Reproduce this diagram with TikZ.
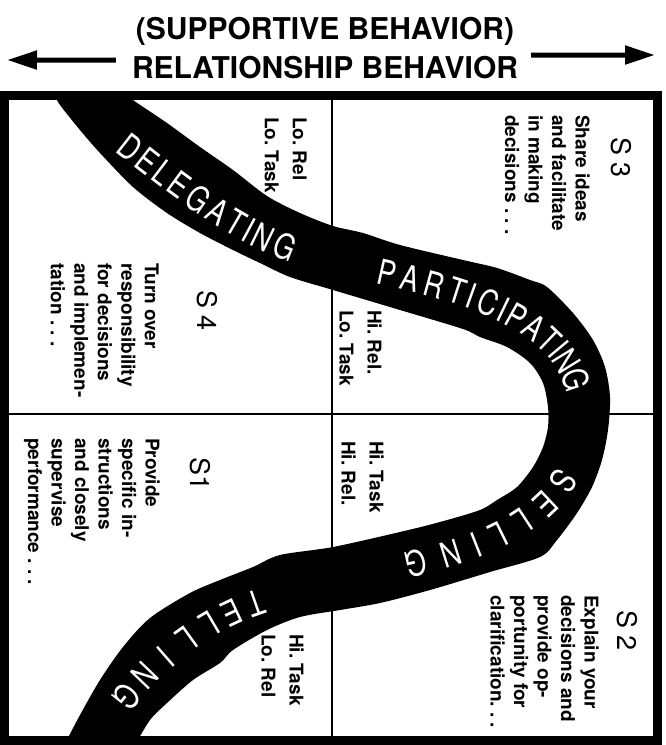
\documentclass[tikz,border=0pt]{standalone}
\usepackage{fontspec}
\setmainfont{TeX Gyre Heros}
\newfontfamily\bandfamily[FakeStretch=0.78]{TeX Gyre Heros}
\usetikzlibrary{arrows.meta}
\newcommand{\bandfont}{\bandfamily\fontsize{35}{35}\selectfont}
\frenchspacing

\begin{document}
\begin{tikzpicture}[x=1pt,y=-1pt,
    quad/.style={rotate=-90,anchor=north west,align=left,inner sep=0pt,font=\fontsize{19}{23.5}\selectfont\bfseries},
    lvl/.style={rotate=-90,anchor=north west,align=left,inner sep=0pt,font=\fontsize{19}{28}\selectfont\bfseries},
    stag/.style={rotate=-90,anchor=west,inner sep=0pt,font=\fontsize{27}{27}\selectfont},
    hdr/.style={anchor=base,inner sep=0pt,font=\fontsize{30}{30}\selectfont\bfseries},
    hdrarrow/.style={line width=5pt,-{Triangle[length=30pt,width=18pt]}},
    bandch/.style={sloped,allow upside down,inner sep=0pt,text=white,font=\bandfont}]
  \useasboundingbox[fill=white] (0,0) rectangle (666,745);

  \node[hdr] (sup) at (325,39) {(SUPPORTIVE BEHAVIOR)};
  \node[hdr] (rel) at (325,78) {RELATIONSHIP BEHAVIOR};
  \coordinate (ltip) at (7,60);
  \coordinate (rtip) at (655,55);
  \draw[hdrarrow] (rel.west) ++(-16,-7) -- (ltip);
  \draw[hdrarrow] (rel.east) ++(13,-12) -- (rtip);

  \draw[line width=2pt] (332,95) -- (332,740);
  \draw[line width=2pt] (4,414) -- (657,414);

  \begin{scope}
    \clip (4,95) rectangle (657,740);
    \fill plot[smooth] coordinates {(120,88) (133,100) (167,123) (200,147) (233,170) (267,196) (300,213) (333,226) (363,233) (400,245) (463,260) (497,268) (530,280) (547,287) (573,313) (593,340) (605,367) (610,397) (608,430) (602,460) (592,487) (577,513) (557,540) (540,557) (490,572) (430,590) (380,603) (340,610) (300,617) (267,630) (233,650) (220,663) (193,680) (167,703) (150,720) (135,745)}
      -- plot[smooth] coordinates {(64,748) (67,740) (80,715) (100,680) (123,647) (150,618) (190,593) (220,580) (253,567) (280,555) (333,547) (400,532) (440,522) (480,510) (497,500) (517,487) (533,467) (543,447) (548,427) (548,407) (543,383) (530,363) (507,347) (480,337) (463,329) (400,310) (333,290) (290,277) (260,263) (233,250) (200,233) (167,213) (133,187) (100,153) (80,130) (58,102) (54,88)}
      -- cycle;
  \end{scope}

  \path (92,118) .. controls (165,172) and (238,242) .. (335,262)
    foreach \ch/\p [count=\i] in {D/.174,E/.253,L/.323,E/.393,G/.475,A/.557,T/.630,I/.680,N/.737,G/.822}
      {node[bandch,pos=\p] (del\i) {\ch}};
  \path (360,267) .. controls (455,287) and (576,315) .. (580,405)
    foreach \ch/\p [count=\i] in {P/.093,A/.170,R/.251,T/.329,I/.380,C/.439,I/.497,P/.552,A/.629,T/.704,I/.756,N/.814,G/.901}
      {node[bandch,pos=\p] (par\i) {\ch}};
  \path (578,428) .. controls (582,525) and (445,562) .. (365,572)
    foreach \ch/\p [count=\i] in {S/.210,E/.319,L/.422,L/.518,I/.598,N/.688,G/.807}
      {node[bandch,pos=\p] (sel\i) {\ch}};
  \path (280,596) .. controls (212,612) and (145,660) .. (100,735)
    foreach \ch/\p [count=\i] in {T/.120,E/.237,L/.353,L/.470,I/.587,N/.703,G/.820}
      {node[bandch,pos=\p] (tel\i) {\ch}};

  \draw[line width=9pt] (4,95) rectangle (657,740.5);

  \node[lvl] (tllvl) at (307,117) {Lo. Rel\\Lo. Task};
  \node[stag] (s4) at (207,290) {S 4};
  \node[quad] (tlbody) at (159,263) {Turn over\\responsibility\\for decisions\\and implemen-\\tation . . .};

  \node[stag] (s3) at (621,137) {S 3};
  \node[quad] (trbody) at (590,115) {Share ideas\\and facilitate\\in making\\decisions . . .};
  \node[lvl] (trlvl) at (382,310) {Hi. Rel.\\Lo. Task};

  \node[lvl] (brlvl) at (384,441) {Hi. Task\\Hi. Rel.};
  \node[stag] (s2) at (627,610) {S 2};
  \node[quad] (brbody) at (599,595) {Explain your\\decisions and\\provide op-\\portunity for\\clarification. . .};

  \node[stag] (s1) at (200,457) {S1};
  \node[quad] (blbody) at (160,438) {Provide\\specific in-\\structions\\and closely\\supervise\\performance . . .};
  \node[lvl] (bllvl) at (304,634) {Hi. Task\\Lo. Rel};
\end{tikzpicture}
\end{document}
